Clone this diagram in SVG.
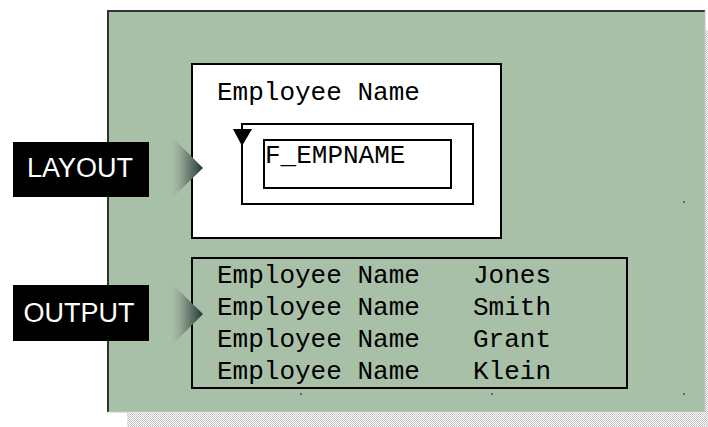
<svg xmlns="http://www.w3.org/2000/svg" width="708" height="427" viewBox="0 0 708 427">
<defs>
<pattern id="dots" width="2" height="2" patternUnits="userSpaceOnUse">
<rect width="2" height="2" fill="#ffffff"/>
<rect width="1" height="1" fill="#b8b8b8"/>
<rect x="1" y="1" width="1" height="1" fill="#c8c8c8"/>
</pattern>
<linearGradient id="arrowGrad" x1="0" y1="0" x2="1" y2="0">
<stop offset="0" stop-color="#a8bfa8" stop-opacity="0.2"/>
<stop offset="0.35" stop-color="#8fa090"/>
<stop offset="0.75" stop-color="#4f6258"/>
<stop offset="1" stop-color="#1c3838"/>
</linearGradient>
<style>
.mono { font-family: "Liberation Mono", "Courier New", monospace; font-size: 26px; fill: #000; }
.lbl { font-family: "Liberation Sans", Arial, sans-serif; font-size: 27px; fill: #fff; text-anchor: middle; }
.box { fill: none; stroke: #000; stroke-width: 2; }
.dot { fill: #5a6a70; }
</style>
</defs>
<rect width="708" height="427" fill="#ffffff"/>
<!-- shadow -->
<rect x="127" y="413" width="581" height="14" fill="url(#dots)"/>
<rect x="705" y="30" width="3" height="397" fill="url(#dots)"/>
<!-- panel -->
<g id="panel">
<rect x="107" y="10" width="598" height="402" fill="#a8bfa8"/>
<line x1="107" y1="11" x2="705" y2="11" stroke="#333" stroke-width="2"/>
<line x1="108" y1="10" x2="108" y2="412" stroke="#333" stroke-width="2"/>
<line x1="108" y1="412" x2="705" y2="412" stroke="#c0c8c0" stroke-width="1"/>
<line x1="705" y1="11" x2="705" y2="412" stroke="#c0c8c0" stroke-width="1"/>
<rect class="dot" x="683" y="201" width="2" height="2"/>
<rect class="dot" x="300" y="393" width="2" height="2"/>
<rect class="dot" x="491" y="393" width="2" height="2"/>
<rect class="dot" x="683" y="393" width="2" height="2"/>
</g>
<g id="layout-box">
<rect x="192" y="64" width="309" height="174" fill="#ffffff" stroke="#000" stroke-width="2"/>
<text class="mono" x="217" y="100">Employee Name</text>
<g id="repeating-frame">
<rect class="box" x="242" y="124" width="231" height="80"/>
<polygon points="233,129 252,129 242,146" fill="#000"/>
</g>
<g id="field-f-empname">
<rect class="box" x="264" y="140" width="187" height="48"/>
<text class="mono" x="265" y="163">F_EMPNAME</text>
</g>
</g>
<g id="output-box">
<rect class="box" x="192" y="258" width="435" height="130"/>
<text class="mono" x="217" y="283">Employee Name</text>
<text class="mono" x="473" y="283">Jones</text>
<text class="mono" x="217" y="315">Employee Name</text>
<text class="mono" x="473" y="315">Smith</text>
<text class="mono" x="217" y="347">Employee Name</text>
<text class="mono" x="473" y="347">Grant</text>
<text class="mono" x="217" y="379">Employee Name</text>
<text class="mono" x="473" y="379">Klein</text>
</g>
<g id="label-layout">
<rect x="13" y="142" width="136" height="55" fill="#000"/>
<text class="lbl" x="80" y="177">LAYOUT</text>
</g>
<g id="label-output">
<rect x="13" y="285" width="136" height="56" fill="#000"/>
<text class="lbl" x="79" y="322">OUTPUT</text>
</g>
<g id="connectors">
<polygon points="170,135 203,168 170,200" fill="url(#arrowGrad)"/>
<polygon points="170,282 203,314 170,347" fill="url(#arrowGrad)"/>
</g>
</svg>
